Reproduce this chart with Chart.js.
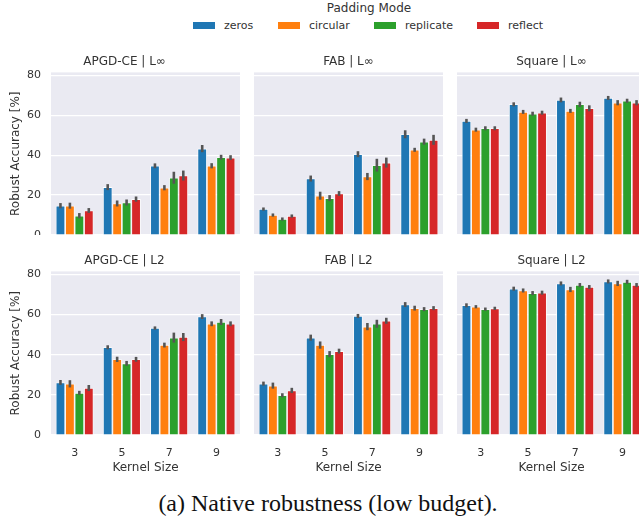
<!DOCTYPE html>
<html>
<head>
<meta charset="utf-8">
<script src="https://cdn.jsdelivr.net/npm/chart.js@4"></script>
<style>
  body { margin: 0; width: 639px; height: 518px; overflow: hidden; background: #fff; position: relative; font-family: "DejaVu Sans", sans-serif; color: #333; }
  canvas { position: absolute; }
  .lg-title { position: absolute; left: 369px; top: 1px; transform: translateX(-50%); font-size: 12px; white-space: nowrap; }
  .lg-box { position: absolute; top: 22px; width: 22px; height: 7px; }
  .lg-text { position: absolute; top: 19px; font-size: 11px; white-space: nowrap; }
  .caption { position: absolute; left: 328px; top: 489px; transform: translateX(-50%); font-family: "Liberation Serif", "Times New Roman", serif; font-size: 24px; color: #111; white-space: nowrap; line-height: 28px; }
</style>
</head>
<body>
<div class="lg-title">Padding Mode</div>
<div id="legend"></div>

<canvas id="p1" width="240" height="180" style="left:0px;top:55px"></canvas>
<canvas id="p2" width="189" height="180" style="left:254px;top:55px"></canvas>
<canvas id="p3" width="189" height="180" style="left:457px;top:55px"></canvas>
<canvas id="p4" width="240" height="221" style="left:0px;top:254px"></canvas>
<canvas id="p5" width="189" height="221" style="left:254px;top:254px"></canvas>
<canvas id="p6" width="189" height="221" style="left:457px;top:254px"></canvas>

<div class="caption">(a) Native robustness (low budget).</div>

<script>
// categories and series
const kernelSizes = ['3', '5', '7', '9'];
const paddingModes = ['zeros', 'circular', 'replicate', 'reflect'];
const yTicks = [0, 20, 40, 60, 80];

// rows = padding mode, columns = kernel size
const apgdLinf = [
    [14.7, 24.0, 34.7, 43.3],
    [14.7, 15.8, 23.7, 34.7],
    [9.7, 16.3, 28.7, 39.0],
    [12.3, 18.0, 29.8, 38.8]
];
const apgdLinfErr = [
    [1.3, 1.5, 1.2, 1.8],
    [1.5, 1.5, 1.3, 1.3],
    [1.3, 1.5, 3.0, 1.2],
    [1.2, 1.3, 2.5, 1.2]
];

const fabLinf = [
    [13.0, 28.3, 40.5, 50.5],
    [10.0, 19.7, 29.3, 42.7],
    [8.0, 18.5, 35.0, 46.8],
    [9.5, 20.8, 36.3, 47.7]
];
const fabLinfErr = [
    [0.8, 1.5, 1.5, 2.0],
    [0.8, 2.0, 1.8, 1.0],
    [0.8, 1.5, 3.2, 1.5],
    [0.8, 1.2, 2.5, 2.5]
];

const squareLinf = [
    [57.2, 65.5, 67.7, 68.7],
    [52.8, 61.7, 62.2, 66.3],
    [53.5, 60.8, 65.5, 67.3],
    [53.5, 61.3, 63.5, 66.3]
];
const squareLinfErr = [
    [1.0, 1.0, 1.2, 1.0],
    [1.0, 1.0, 1.0, 1.3],
    [1.0, 1.0, 1.3, 1.0],
    [1.0, 1.0, 1.5, 1.3]
];

const apgdL2 = [
    [26.2, 43.7, 53.3, 59.0],
    [25.5, 37.7, 44.8, 55.4],
    [21.0, 35.7, 48.5, 56.3],
    [23.4, 37.7, 48.8, 55.4]
];
const apgdL2Err = [
    [1.2, 1.0, 0.8, 1.2],
    [1.8, 1.3, 1.2, 1.2],
    [1.0, 1.2, 2.5, 1.5],
    [1.5, 1.2, 2.0, 1.2]
];

const fabL2 = [
    [25.6, 48.5, 59.3, 65.0],
    [24.6, 44.8, 54.0, 63.2],
    [19.8, 40.3, 55.4, 62.7],
    [22.2, 41.8, 56.9, 63.2]
];
const fabL2Err = [
    [1.0, 1.5, 1.0, 1.2],
    [1.5, 1.8, 1.8, 1.2],
    [1.0, 1.5, 2.0, 1.0],
    [1.3, 1.2, 1.5, 1.0]
];

const squareL2 = [
    [64.6, 72.9, 75.5, 76.5],
    [63.9, 72.0, 72.5, 75.5],
    [62.7, 70.7, 74.7, 76.3],
    [63.1, 70.9, 73.7, 74.7]
];
const squareL2Err = [
    [1.0, 1.0, 1.0, 1.0],
    [0.8, 1.0, 1.3, 1.3],
    [0.8, 1.0, 1.0, 1.0],
    [0.8, 1.0, 1.0, 1.0]
];

const modeColors = ['#1f77b4', '#ff7f0e', '#2ca02c', '#d62728'];
const textColor = '#333';
const fontFamily = '"DejaVu Sans", sans-serif';

// legend (html)
const legendPos = [193, 278, 374, 477];
const legendEl = document.getElementById('legend');
paddingModes.forEach((mode, i) => {
    const box = document.createElement('div');
    box.className = 'lg-box';
    box.style.left = legendPos[i] + 'px';
    box.style.background = modeColors[i];
    legendEl.appendChild(box);
    const txt = document.createElement('div');
    txt.className = 'lg-text';
    txt.style.left = (legendPos[i] + 31) + 'px';
    txt.textContent = mode;
    legendEl.appendChild(txt);
});

// grey plot background
const plotBackground = {
    id: 'plotBackground',
    beforeDraw: function(chart) {
        const a = chart.chartArea;
        const ctx = chart.ctx;
        ctx.save();
        ctx.fillStyle = '#eaeaf2';
        ctx.fillRect(a.left, a.top, a.right - a.left, a.bottom - a.top);
        ctx.restore();
    }
};

// error bars from dataset.errors
const errorBars = {
    id: 'errorBars',
    afterDatasetsDraw: function(chart) {
        const ctx = chart.ctx;
        const y = chart.scales.y;
        ctx.save();
        ctx.strokeStyle = '#555';
        ctx.lineWidth = 2.6;
        chart.data.datasets.forEach((ds, i) => {
            const meta = chart.getDatasetMeta(i);
            meta.data.forEach((bar, j) => {
                const v = ds.data[j];
                const e = ds.errors[j];
                ctx.beginPath();
                ctx.moveTo(bar.x, y.getPixelForValue(v - e));
                ctx.lineTo(bar.x, y.getPixelForValue(v + e));
                ctx.stroke();
            });
        });
        ctx.restore();
    }
};

// Build one facet panel
function makePanel(id, title, values, errs, isLeft, isBottom) {
    const ctx = document.getElementById(id).getContext('2d');
    return new Chart(ctx, {
        type: 'bar',
        data: {
            labels: kernelSizes,
            datasets: paddingModes.map((mode, i) => ({
                label: mode,
                data: values[i],
                errors: errs[i],
                backgroundColor: modeColors[i],
                borderColor: '#ffffff',
                borderWidth: 0.8,
                borderSkipped: 'start',
                categoryPercentage: 0.8,
                barPercentage: 1.0
            }))
        },
        options: {
            responsive: false,
            animation: false,
            layout: {
                padding: { left: isLeft ? 9 : 0, right: 0, top: 0, bottom: 0 }
            },
            plugins: {
                legend: { display: false },
                tooltip: { enabled: false },
                title: {
                    display: true,
                    text: title,
                    color: textColor,
                    font: { family: fontFamily, size: 12, weight: 'normal' },
                    padding: { top: 0, bottom: 3 }
                }
            },
            scales: {
                x: {
                    display: isBottom,
                    grid: { display: false },
                    border: { display: false },
                    ticks: {
                        color: textColor,
                        font: { family: fontFamily, size: 11 },
                        padding: 4
                    },
                    title: {
                        display: true,
                        text: 'Kernel Size',
                        color: textColor,
                        font: { family: fontFamily, size: 12 },
                        padding: 0
                    },
                    afterFit: function(scale) {
                        scale.height = isBottom ? 40 : 0;
                        scale.paddingLeft = 0;
                        scale.paddingRight = 0;
                    }
                },
                y: {
                    min: 0,
                    max: 81.5,
                    afterBuildTicks: function(scale) {
                        scale.ticks = yTicks.map(v => ({ value: v }));
                    },
                    grid: { color: '#ffffff', lineWidth: 1.2, drawTicks: false },
                    border: { display: false },
                    ticks: {
                        display: isLeft,
                        color: textColor,
                        font: { family: fontFamily, size: 11 },
                        padding: 10
                    },
                    title: {
                        display: isLeft,
                        text: 'Robust Accuracy [%]',
                        color: textColor,
                        font: { family: fontFamily, size: 12 },
                        padding: 0
                    },
                    afterFit: function(scale) {
                        scale.width = isLeft ? 42 : 0;
                        scale.paddingTop = 0;
                        scale.paddingBottom = 0;
                    }
                }
            }
        },
        plugins: [plotBackground, errorBars]
    });
}

makePanel('p1', 'APGD-CE | L\u221e', apgdLinf, apgdLinfErr, true, false);
makePanel('p2', 'FAB | L\u221e', fabLinf, fabLinfErr, false, false);
makePanel('p3', 'Square | L\u221e', squareLinf, squareLinfErr, false, false);
makePanel('p4', 'APGD-CE | L2', apgdL2, apgdL2Err, true, true);
makePanel('p5', 'FAB | L2', fabL2, fabL2Err, false, true);
makePanel('p6', 'Square | L2', squareL2, squareL2Err, false, true);
</script>
</body>
</html>
